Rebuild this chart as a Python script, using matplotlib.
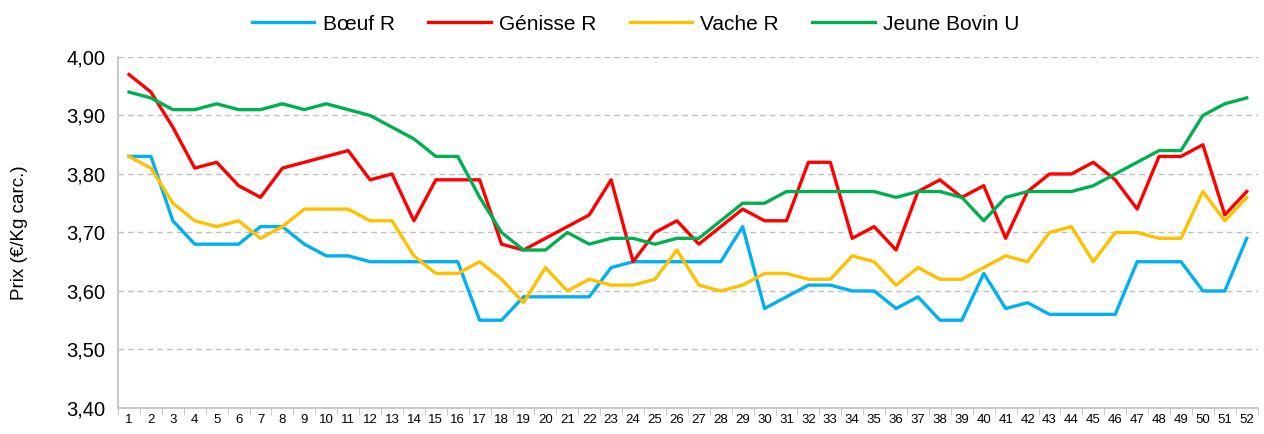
import numpy as np
import matplotlib
matplotlib.use("Agg")
import matplotlib.pyplot as plt
from matplotlib.ticker import FuncFormatter

plt.rcParams['font.family'] = ['Liberation Sans Narrow', 'Liberation Sans', 'DejaVu Sans']

semaines = np.arange(1, 53)

boeuf = [3.83, 3.83, 3.72, 3.68, 3.68, 3.68, 3.71, 3.71, 3.68, 3.66, 3.66, 3.65, 3.65,
         3.65, 3.65, 3.65, 3.55, 3.55, 3.59, 3.59, 3.59, 3.59, 3.64, 3.65, 3.65, 3.65,
         3.65, 3.65, 3.71, 3.57, 3.59, 3.61, 3.61, 3.60, 3.60, 3.57, 3.59, 3.55, 3.55,
         3.63, 3.57, 3.58, 3.56, 3.56, 3.56, 3.56, 3.65, 3.65, 3.65, 3.60, 3.60, 3.69]
genisse = [3.97, 3.94, 3.88, 3.81, 3.82, 3.78, 3.76, 3.81, 3.82, 3.83, 3.84, 3.79, 3.80,
           3.72, 3.79, 3.79, 3.79, 3.68, 3.67, 3.69, 3.71, 3.73, 3.79, 3.65, 3.70, 3.72,
           3.68, 3.71, 3.74, 3.72, 3.72, 3.82, 3.82, 3.69, 3.71, 3.67, 3.77, 3.79, 3.76,
           3.78, 3.69, 3.77, 3.80, 3.80, 3.82, 3.79, 3.74, 3.83, 3.83, 3.85, 3.73, 3.77]
vache = [3.83, 3.81, 3.75, 3.72, 3.71, 3.72, 3.69, 3.71, 3.74, 3.74, 3.74, 3.72, 3.72,
         3.66, 3.63, 3.63, 3.65, 3.62, 3.58, 3.64, 3.60, 3.62, 3.61, 3.61, 3.62, 3.67,
         3.61, 3.60, 3.61, 3.63, 3.63, 3.62, 3.62, 3.66, 3.65, 3.61, 3.64, 3.62, 3.62,
         3.64, 3.66, 3.65, 3.70, 3.71, 3.65, 3.70, 3.70, 3.69, 3.69, 3.77, 3.72, 3.76]
jeune_bovin = [3.94, 3.93, 3.91, 3.91, 3.92, 3.91, 3.91, 3.92, 3.91, 3.92, 3.91, 3.90, 3.88,
               3.86, 3.83, 3.83, 3.76, 3.70, 3.67, 3.67, 3.70, 3.68, 3.69, 3.69, 3.68, 3.69,
               3.69, 3.72, 3.75, 3.75, 3.77, 3.77, 3.77, 3.77, 3.77, 3.76, 3.77, 3.77, 3.76,
               3.72, 3.76, 3.77, 3.77, 3.77, 3.78, 3.80, 3.82, 3.84, 3.84, 3.90, 3.92, 3.93]

fig = plt.figure(figsize=(12.64, 4.34), dpi=100)
ax = fig.add_axes([0.0934, 0.06, 0.9016, 0.8087])

ax.plot(semaines, boeuf, color='#00B0F0', lw=2.4, label='Bœuf R')
ax.plot(semaines, genisse, color='#FF0000', lw=2.4, label='Génisse R')
ax.plot(semaines, vache, color='#FFC000', lw=2.4, label='Vache R')
ax.plot(semaines, jeune_bovin, color='#00B050', lw=2.4, label='Jeune Bovin U')

ax.set_xlim(0.5, 52.5)
ax.set_ylim(3.40, 4.00)
ax.set_yticks(np.arange(3.40, 4.001, 0.10))
ax.yaxis.set_major_formatter(FuncFormatter(lambda v, p: f"{v:.2f}".replace('.', ',')))
ax.set_xticks(semaines)
ax.set_xticks(np.arange(0.5, 53, 1), minor=True)
ax.tick_params(axis='x', which='major', length=0, labelsize=9.5, pad=4)
ax.tick_params(axis='x', which='minor', length=5, color='#BFBFBF')
ax.tick_params(axis='y', length=0, labelsize=14.5, pad=9)

ax.grid(axis='y', color='#BFBFBF', linestyle=(0, (4, 3)), lw=1)
for s in ['top', 'right']:
    ax.spines[s].set_visible(False)
for s in ['left', 'bottom']:
    ax.spines[s].set_color('#BFBFBF')
    ax.spines[s].set_linewidth(1.2)

ax.set_ylabel('Prix (€/Kg carc.)', fontsize=13.5, labelpad=28)

fig.legend(loc='upper center', bbox_to_anchor=(0.503, 1.0), ncol=4, frameon=False,
           fontsize=15, handlelength=3.0, columnspacing=1.6, handletextpad=0.4,
           borderaxespad=0.3)

fig.savefig('out.png', dpi=100)
